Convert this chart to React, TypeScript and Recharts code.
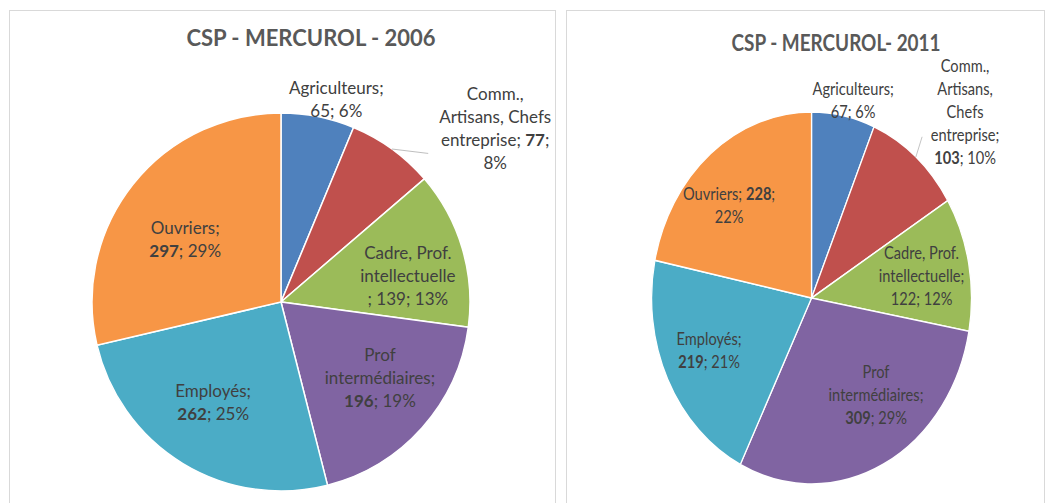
import React from "react";
import { PieChart, Pie, Cell } from "recharts";

// categories (shared by both years)
const categories = [
  "Agriculteurs",
  "Comm., Artisans, Chefs entreprise",
  "Cadre, Prof. intellectuelle",
  "Prof intermédiaires",
  "Employés",
  "Ouvriers",
];

const values2006 = [65, 77, 139, 196, 262, 297];
const percents2006 = [6, 8, 13, 19, 25, 29];

const values2011 = [67, 103, 122, 309, 219, 228];
const percents2011 = [6, 10, 12, 29, 21, 22];

// label text: "|" = line break, {V} bold value, {v} plain value, {p} percent
const labels2006 = [
  "Agriculteurs;|{v}; {p}",
  "Comm.,|Artisans, Chefs|entreprise; {V};|{p}",
  "Cadre, Prof.|intellectuelle|; {v}; {p}",
  "Prof|intermédiaires;|{V}; {p}",
  "Employés;|{V}; {p}",
  "Ouvriers;|{V}; {p}",
];
const labels2011 = [
  "Agriculteurs;|{v}; {p}",
  "Comm.,|Artisans,|Chefs|entreprise;|{V}; {p}",
  "Cadre, Prof.|intellectuelle;|{v}; {p}",
  "Prof|intermédiaires;|{V}; {p}",
  "Employés;|{V}; {p}",
  "Ouvriers; {V};|{p}",
];

const COLORS = ["#4F81BD", "#C0504D", "#9BBB59", "#8064A2", "#4BACC6", "#F79646"];
const FONT = "Lato, 'Open Sans', sans-serif";
const RAD = Math.PI / 180;
const NO_MARGIN = { top: 0, right: 0, bottom: 0, left: 0 };

// label placement: [radius factor, dx, dy]
const labelPos2006 = [[1.09, 15, -1], [1.2, 81, 9], [0.7, 0, 11], [0.68, 3, -10], [0.62, -7, -1], [0.62, -4, 9]];
const labelPos2011 = [[1.09, 8, 0], [1.2, 33, -18], [0.7, 0, 1], [0.6, 25, -4], [0.7, -2, -6], [0.68, -16, 4]];

function makeLabel(templates: string[], pcts: number[], pos: number[][], leader: { index: number; dx: number; dy: number }) {
  return (props: any) => {
    const { cx, cy, midAngle, outerRadius, index, value } = props;
    const [rf, ox, oy] = pos[index];
    const r = outerRadius * rf;
    const lx = cx + r * Math.cos(-midAngle * RAD) + ox;
    const ly = cy + r * Math.sin(-midAngle * RAD) + oy;
    const lines = templates[index].split("|");
    const lh = 23;
    let line = null;
    if (index === leader.index) {
      const sx = cx + outerRadius * Math.cos(-midAngle * RAD);
      const sy = cy + outerRadius * Math.sin(-midAngle * RAD);
      line = <line x1={sx} y1={sy} x2={lx + leader.dx} y2={ly + leader.dy} stroke="#bfbfbf" strokeWidth={1} />;
    }
    return (
      <g>
        {line}
        <text textAnchor="middle" dominantBaseline="central" fill="#404040" fontSize={17} fontFamily={FONT}>
          {lines.map((ln, i) => {
            const y = ly + (i - (lines.length - 1) / 2) * lh;
            const parts = ln.split(/(\{[vVp]\})/).filter((s) => s !== "");
            return (
              <tspan key={i} x={lx} y={y}>
                {parts.map((p, j) => {
                  if (p === "{V}") return <tspan key={j} fontWeight="bold">{value}</tspan>;
                  if (p === "{v}") return <tspan key={j}>{value}</tspan>;
                  if (p === "{p}") return <tspan key={j}>{pcts[index] + "%"}</tspan>;
                  return <tspan key={j}>{p}</tspan>;
                })}
              </tspan>
            );
          })}
        </text>
      </g>
    );
  };
}

const data2006 = categories.map((name, i) => ({ name, value: values2006[i] }));
const data2011 = categories.map((name, i) => ({ name, value: values2011[i] }));

const titleStyle: React.CSSProperties = {
  position: "absolute",
  width: 400,
  textAlign: "center",
  fontFamily: FONT,
  fontWeight: "bold",
  fontSize: 22,
  lineHeight: "22px",
  color: "#595959",
  whiteSpace: "nowrap",
};

export default function App() {
  return (
    <div style={{ position: "absolute", left: 0, top: 0, width: 1048, height: 503, background: "#fff", overflow: "hidden" }}>
      <div style={{ position: "absolute", left: 9, top: 10, width: 545, height: 520, border: "1px solid #d9d9d9" }} />
      <div style={{ position: "absolute", left: 566, top: 10, width: 477, height: 520, border: "1px solid #d9d9d9" }} />

      <div style={{ position: "absolute", left: 0, top: 0 }}>
        <div style={{ ...titleStyle, left: 111, top: 27 }}>CSP - MERCUROL - 2006</div>
        <PieChart width={556} height={503} margin={NO_MARGIN}>
          <Pie
            data={data2006}
            dataKey="value"
            nameKey="name"
            cx={281}
            cy={302}
            outerRadius={189}
            startAngle={90}
            endAngle={-270}
            stroke="#fff"
            strokeWidth={1.5}
            labelLine={false}
            label={makeLabel(labels2006, percents2006, labelPos2006, { index: 1, dx: -67, dy: 26 })}
            isAnimationActive={false}
          >
            {data2006.map((d, i) => (
              <Cell key={d.name} fill={COLORS[i]} />
            ))}
          </Pie>
        </PieChart>
      </div>

      <div style={{ position: "absolute", left: 566, top: 0, width: 557, height: 503, transform: "scaleX(0.86)", transformOrigin: "0 0" }}>
        <div style={{ ...titleStyle, left: 114, top: 32 }}>CSP - MERCUROL- 2011</div>
        <PieChart width={557} height={503} margin={NO_MARGIN}>
          <Pie
            data={data2011}
            dataKey="value"
            nameKey="name"
            cx={285.5}
            cy={298}
            outerRadius={186}
            startAngle={90}
            endAngle={-270}
            stroke="#fff"
            strokeWidth={1.5}
            labelLine={false}
            label={makeLabel(labels2011, percents2011, labelPos2011, { index: 1, dx: -50, dy: 26 })}
            isAnimationActive={false}
          >
            {data2011.map((d, i) => (
              <Cell key={d.name} fill={COLORS[i]} />
            ))}
          </Pie>
        </PieChart>
      </div>
    </div>
  );
}
